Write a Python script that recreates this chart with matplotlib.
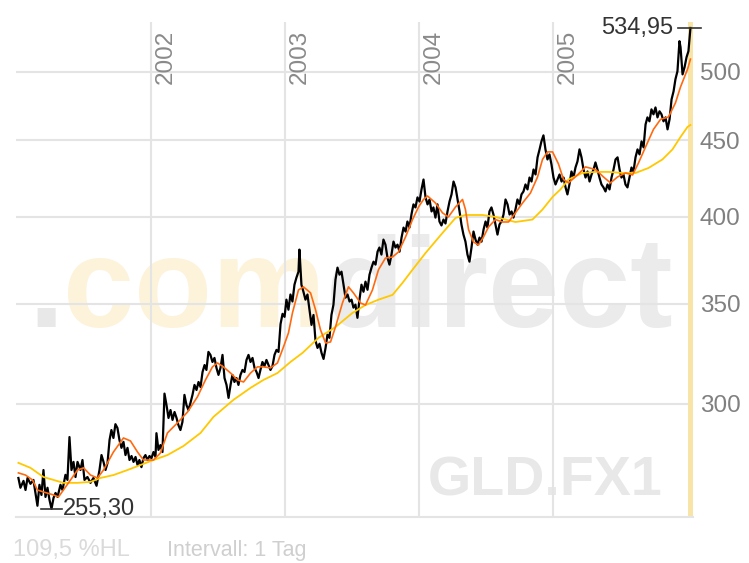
import matplotlib
matplotlib.use("Agg")
import matplotlib.pyplot as plt
from matplotlib.ticker import NullLocator

plt.rcParams['font.family'] = ['Liberation Sans', 'DejaVu Sans']

# Goldpreis (GLD.FX1), Schlusskurse, Zeit in Dezimaljahren
kurs_t = [
    2001.007, 2001.022, 2001.045, 2001.060, 2001.075, 2001.097, 2001.119, 2001.134, 2001.149, 2001.164,
    2001.179, 2001.194, 2001.209, 2001.224, 2001.239, 2001.254, 2001.269, 2001.284, 2001.299, 2001.321,
    2001.336, 2001.358, 2001.373, 2001.388, 2001.403, 2001.418, 2001.433, 2001.448, 2001.470, 2001.485,
    2001.500, 2001.522, 2001.545, 2001.567, 2001.590, 2001.612, 2001.627, 2001.642, 2001.657, 2001.672,
    2001.687, 2001.701, 2001.716, 2001.731, 2001.746, 2001.761, 2001.776, 2001.791, 2001.806, 2001.821,
    2001.836, 2001.851, 2001.866, 2001.881, 2001.896, 2001.910, 2001.925, 2001.940, 2001.955, 2001.970,
    2001.985,
    2002.000, 2002.015, 2002.030, 2002.037, 2002.052, 2002.067, 2002.082, 2002.097, 2002.112, 2002.127,
    2002.142, 2002.157, 2002.172, 2002.187, 2002.201, 2002.216, 2002.231, 2002.246, 2002.261, 2002.276,
    2002.291, 2002.306, 2002.321, 2002.336, 2002.351, 2002.366, 2002.381, 2002.396, 2002.410, 2002.425,
    2002.440, 2002.455, 2002.470, 2002.485, 2002.500, 2002.515, 2002.530, 2002.545, 2002.560, 2002.575,
    2002.590, 2002.604, 2002.619, 2002.634, 2002.649, 2002.664, 2002.679, 2002.694, 2002.709, 2002.724,
    2002.739, 2002.754, 2002.769, 2002.784, 2002.799, 2002.813, 2002.828, 2002.843, 2002.858, 2002.873,
    2002.888, 2002.903, 2002.918, 2002.933, 2002.948, 2002.963, 2002.978, 2002.993,
    2003.007, 2003.022, 2003.037, 2003.052, 2003.067, 2003.082, 2003.097, 2003.104, 2003.119, 2003.134,
    2003.149, 2003.164, 2003.179, 2003.194, 2003.209, 2003.224, 2003.239, 2003.254, 2003.269, 2003.284,
    2003.299, 2003.313, 2003.328, 2003.343, 2003.358, 2003.373, 2003.388, 2003.403, 2003.418, 2003.433,
    2003.448, 2003.463, 2003.478, 2003.493, 2003.507, 2003.522, 2003.537, 2003.552, 2003.567, 2003.582,
    2003.597, 2003.612, 2003.627, 2003.642, 2003.657, 2003.672, 2003.687, 2003.701, 2003.716, 2003.731,
    2003.746, 2003.761, 2003.776, 2003.791, 2003.806, 2003.821, 2003.836, 2003.851, 2003.866, 2003.881,
    2003.896, 2003.910, 2003.925, 2003.940, 2003.955, 2003.970, 2003.985,
    2004.000, 2004.015, 2004.030, 2004.045, 2004.060, 2004.075, 2004.090, 2004.104, 2004.119, 2004.134,
    2004.149, 2004.164, 2004.179, 2004.194, 2004.209, 2004.224, 2004.239, 2004.254, 2004.269, 2004.284,
    2004.299, 2004.313, 2004.328, 2004.343, 2004.358, 2004.373, 2004.388, 2004.403, 2004.418, 2004.433,
    2004.448, 2004.463, 2004.478, 2004.493, 2004.507, 2004.522, 2004.537, 2004.552, 2004.567, 2004.582,
    2004.597, 2004.612, 2004.627, 2004.642, 2004.657, 2004.672, 2004.687, 2004.701, 2004.716, 2004.731,
    2004.746, 2004.761, 2004.776, 2004.791, 2004.806, 2004.821, 2004.836, 2004.851, 2004.866, 2004.881,
    2004.896, 2004.910, 2004.925, 2004.940, 2004.955, 2004.970, 2004.985,
    2005.000, 2005.015, 2005.030, 2005.045, 2005.060, 2005.075, 2005.090, 2005.104, 2005.119, 2005.134,
    2005.149, 2005.164, 2005.179, 2005.194, 2005.209, 2005.224, 2005.239, 2005.254, 2005.269, 2005.284,
    2005.299, 2005.313, 2005.328, 2005.343, 2005.358, 2005.373, 2005.388, 2005.403, 2005.418, 2005.433,
    2005.448, 2005.463, 2005.478, 2005.493, 2005.507, 2005.522, 2005.537, 2005.552, 2005.567, 2005.582,
    2005.597, 2005.612, 2005.627, 2005.642, 2005.657, 2005.672, 2005.687, 2005.701, 2005.716, 2005.731,
    2005.746, 2005.761, 2005.776, 2005.791, 2005.806, 2005.821, 2005.836, 2005.851, 2005.866, 2005.881,
    2005.896, 2005.910, 2005.925, 2005.940, 2005.948, 2005.963, 2005.978, 2005.993, 2006.007, 2006.022,
]
kurs = [
    267.7, 263.7, 266.5, 262.8, 267.7, 265.3, 266.9, 261.6, 256.5, 264.9,
    260.8, 271.0, 260.0, 263.7, 258.8, 255.3, 259.6, 261.6, 260.0, 264.9,
    262.8, 269.0, 266.9, 285.1, 271.0, 274.4, 268.1, 274.4, 271.0, 275.2,
    266.9, 268.1, 265.7, 267.7, 264.5, 271.0, 277.3, 274.4, 271.0, 274.0,
    283.8, 288.2, 284.7, 290.8, 289.1, 283.8, 280.4, 283.0, 277.3, 280.4,
    275.2, 276.9, 274.4, 276.5, 273.1, 275.2, 272.2, 276.0, 277.3, 275.2,
    276.9,
    276.0, 278.6, 276.5, 286.8, 279.5, 281.6, 278.6, 304.8, 299.5, 293.6,
    297.2, 292.7, 296.3, 293.6, 290.4, 288.2, 291.8, 304.2, 299.5, 297.2,
    300.5, 304.2, 308.9, 306.5, 310.3, 307.9, 315.1, 318.5, 316.1, 325.0,
    323.5, 320.0, 322.0, 317.1, 313.7, 317.1, 323.5, 312.2, 308.9, 302.8,
    308.9, 313.7, 310.3, 312.2, 308.9, 313.7, 316.1, 315.1, 321.0, 323.5,
    320.0, 322.0, 317.1, 315.1, 312.2, 316.1, 320.0, 318.0, 321.0, 318.5,
    316.1, 318.0, 323.5, 326.0, 325.0, 339.2, 344.6, 343.0,
    352.2, 346.8, 355.0, 351.2, 360.4, 364.4, 367.7, 380.4, 360.4, 356.5,
    352.2, 355.0, 346.8, 338.8, 344.0, 330.6, 327.0, 329.1, 324.5, 321.5,
    327.0, 333.7, 332.1, 344.0, 349.5, 363.2, 370.0, 366.0, 367.7, 360.4,
    353.3, 355.0, 351.2, 352.2, 347.9, 349.5, 342.5, 352.2, 360.4, 356.5,
    362.1, 357.6, 366.0, 370.0, 373.4, 371.7, 379.2, 381.6, 377.5, 386.3,
    383.3, 375.7, 371.7, 377.5, 385.1, 381.6, 383.3, 379.2, 387.5, 393.5,
    391.1, 397.2, 393.5, 401.5, 407.8, 405.9, 412.2,
    409.6, 417.3, 423.7, 412.2, 407.8, 410.9, 403.4, 405.9, 399.6, 407.8,
    397.2, 394.8, 398.4, 396.0, 403.4, 409.6, 414.1, 422.4, 418.6, 410.9,
    403.4, 395.4, 389.3, 385.1, 377.5, 373.4, 381.6, 391.1, 386.3, 383.3,
    387.5, 385.1, 392.3, 397.2, 393.5, 403.4, 405.9, 401.5, 395.4, 389.3,
    395.4, 397.2, 401.5, 410.9, 407.8, 401.5, 403.4, 399.6, 404.6, 410.9,
    407.8, 414.1, 416.0, 420.5, 417.3, 425.0, 422.4, 430.3, 427.0, 438.4,
    443.8, 449.3, 453.5, 443.8, 437.0, 440.4, 433.6,
    425.0, 420.5, 423.7, 427.0, 422.4, 425.0, 418.6, 414.1, 420.5, 429.0,
    425.0, 431.6, 435.7, 443.8, 438.4, 430.3, 425.0, 429.0, 422.4, 427.0,
    430.3, 435.0, 430.3, 425.0, 420.5, 418.6, 416.0, 420.5, 417.3, 425.0,
    430.3, 437.0, 438.4, 430.3, 425.0, 427.0, 420.5, 418.6, 425.0, 431.6,
    429.0, 438.4, 443.8, 440.4, 449.3, 445.2, 461.2, 466.2, 463.4, 472.0,
    468.4, 473.4, 466.2, 470.6, 468.4, 463.4, 466.2, 457.7, 464.8, 479.3,
    485.3, 494.4, 500.5, 524.2, 519.4, 498.1, 503.6, 511.5, 516.2, 534.95,
]

# gleitender Durchschnitt 38 Tage (orange)
gd38_t = [
    2001.007, 2001.060, 2001.112, 2001.149, 2001.194, 2001.269, 2001.306, 2001.343, 2001.396, 2001.448,
    2001.493, 2001.545, 2001.597, 2001.642, 2001.716, 2001.791, 2001.843, 2001.896, 2001.940, 2002.015,
    2002.067, 2002.119, 2002.194, 2002.269, 2002.343, 2002.403, 2002.455, 2002.493, 2002.537, 2002.590,
    2002.642, 2002.687, 2002.739, 2002.791, 2002.836, 2002.888, 2002.940, 2002.985, 2003.022, 2003.052,
    2003.097, 2003.134, 2003.187, 2003.224, 2003.261, 2003.299, 2003.336, 2003.373, 2003.425, 2003.470,
    2003.507, 2003.560, 2003.597, 2003.649, 2003.694, 2003.746, 2003.799, 2003.843, 2003.896, 2003.948,
    2003.993, 2004.030, 2004.060, 2004.119, 2004.172, 2004.216, 2004.269, 2004.321, 2004.343, 2004.366,
    2004.403, 2004.440, 2004.478, 2004.515, 2004.567, 2004.619, 2004.664, 2004.716, 2004.769, 2004.828,
    2004.881, 2004.918, 2004.955, 2004.993, 2005.037, 2005.075, 2005.112, 2005.179, 2005.239, 2005.313,
    2005.373, 2005.425, 2005.478, 2005.537, 2005.590, 2005.634, 2005.687, 2005.746, 2005.799, 2005.858,
    2005.910, 2005.948, 2006.000, 2006.022,
]
gd38 = [
    269.8, 268.9, 266.9, 262.8, 262.0, 260.8, 260.0, 262.8, 266.9, 271.0,
    271.9, 268.9, 267.7, 271.0, 278.6, 284.7, 283.4, 278.6, 275.2, 275.2,
    278.2, 286.9, 291.4, 296.3, 303.3, 311.3, 317.6, 319.5, 317.6, 314.6,
    311.3, 310.3, 314.6, 317.6, 317.6, 317.1, 319.5, 327.5, 334.6, 345.1,
    357.5, 359.2, 355.9, 346.8, 336.3, 329.5, 330.0, 337.7, 350.4, 359.2,
    355.9, 350.4, 349.3, 357.5, 368.8, 375.5, 376.1, 379.0, 387.9, 398.4,
    406.2, 410.9, 413.1, 408.7, 402.5, 400.0, 406.2, 410.9, 404.6, 392.3,
    384.9, 383.1, 387.9, 393.9, 398.4, 396.9, 396.9, 402.5, 408.7, 415.0,
    425.4, 437.0, 442.1, 442.1, 434.0, 423.7, 421.5, 426.7, 432.0, 430.3,
    425.4, 421.5, 425.4, 428.0, 426.7, 434.6, 445.5, 457.7, 464.8, 466.5,
    476.7, 488.6, 502.0, 509.9,
]

# gleitender Durchschnitt 200 Tage (gelb)
gd200_t = [
    2001.007, 2001.097, 2001.194, 2001.269, 2001.343, 2001.448, 2001.545, 2001.619, 2001.716, 2001.821,
    2001.918, 2002.015, 2002.119, 2002.239, 2002.366, 2002.463, 2002.612, 2002.739, 2002.836, 2002.940,
    2003.037, 2003.127, 2003.246, 2003.373, 2003.500, 2003.597, 2003.694, 2003.799, 2003.873, 2003.948,
    2004.045, 2004.172, 2004.269, 2004.343, 2004.470, 2004.567, 2004.642, 2004.716, 2004.843, 2004.918,
    2004.993, 2005.052, 2005.112, 2005.216, 2005.313, 2005.410, 2005.515, 2005.612, 2005.709, 2005.813,
    2005.888, 2005.948, 2006.000, 2006.022,
]
gd200 = [
    274.0, 271.9, 268.1, 266.9, 265.7, 265.7, 266.1, 267.7, 268.9, 271.0,
    273.1, 275.2, 277.3, 281.2, 286.9, 294.1, 301.9, 307.5, 311.3, 314.6,
    320.0, 324.5, 332.1, 337.7, 345.1, 349.3, 352.2, 354.8, 361.4, 368.8,
    378.4, 390.3, 399.4, 401.2, 401.2, 400.0, 398.4, 396.9, 398.4, 404.6,
    412.5, 417.3, 423.7, 428.0, 428.7, 428.7, 428.0, 428.0, 431.3, 437.0,
    443.8, 452.4, 459.4, 460.8,
]

jahre = [2002, 2003, 2004, 2005]
y_ticks = [300, 350, 400, 450, 500]
hoch_t, hoch = 2006.022, 534.95
tief_t, tief = 2001.254, 255.30

grid_c = '#e4e4e4'

fig = plt.figure(figsize=(7.49, 5.63), dpi=100)
ax = fig.add_axes([16 / 749, 46 / 563, 677 / 749, 495 / 563])
ax.set_yscale('log')
ax.set_xlim(2000.989, 2006.041)
ax.set_ylim(252.1, 539.9)

for s in ['top', 'left', 'right']:
    ax.spines[s].set_visible(False)
ax.spines['bottom'].set_color(grid_c)
ax.spines['bottom'].set_linewidth(1.5)

ax.set_xticks([])
ax.set_yticks(y_ticks, labels=[str(v) for v in y_ticks])
ax.yaxis.set_minor_locator(NullLocator())
ax.yaxis.tick_right()
ax.tick_params(axis='y', length=0, pad=5, labelsize=17.5, labelcolor='#808080')

for v in y_ticks:
    ax.axhline(v, color=grid_c, lw=1.5, zorder=1)
for j in jahre:
    ax.axvline(j, color=grid_c, lw=1.5, zorder=1)
    ax.annotate(str(j), xy=(j, 1), xycoords=('data', 'axes fraction'),
                xytext=(2.5, -5.8), textcoords='offset points', rotation=90,
                ha='left', va='top', fontsize=17.5, color='#8a8a8a')

# gelber Balken am rechten Rand
ax.axvspan(2006.0, 2006.041, color='#f8e4a6', lw=0, zorder=1.5)

# Wasserzeichen
wm1 = ax.text(28 / 749, 1 - 327 / 563, '.', transform=fig.transFigure, fontsize=92,
              fontweight='bold', color='#e8e8e8', ha='left', va='baseline', zorder=0.5)
wm2 = ax.annotate('com', xy=(1, 0), xycoords=wm1, ha='left', va='bottom', fontsize=92,
                  fontweight='bold', color='#fdf3db', zorder=0.5)
ax.annotate('direct', xy=(1, 0), xycoords=wm2, ha='left', va='bottom', fontsize=92,
            fontweight='bold', color='#ebebeb', zorder=0.5)
ax.text(662 / 749, 1 - 495 / 563, 'GLD.FX1', transform=fig.transFigure, fontsize=40,
        fontweight='bold', color='#e8e8e8', ha='right', va='baseline', zorder=0.5)

ax.plot(kurs_t, kurs, color='black', lw=1.6, zorder=3)
ax.plot(gd200_t, gd200, color='#ffc800', lw=1.3, zorder=4)
ax.plot(gd38_t, gd38, color='#ff6a10', lw=1.2, zorder=5)

# Hoch / Tief
ax.plot([hoch_t - 0.09, hoch_t + 0.075], [hoch, hoch], color='#333333', lw=1.2,
        zorder=6, clip_on=False)
ax.annotate('534,95', xy=(hoch_t, hoch), xytext=(-12.5, 0), textcoords='offset points',
            ha='right', va='center', fontsize=17, color='#333333')
ax.plot([tief_t - 0.08, tief_t + 0.08], [tief, tief], color='#333333', lw=1.2, zorder=6)
ax.annotate('255,30', xy=(tief_t, tief), xytext=(8.5, 0), textcoords='offset points',
            ha='left', va='center', fontsize=17, color='#333333')

fig.text(13 / 749, 1 - 556 / 563, '109,5 %HL', fontsize=17, color='#dadada',
         ha='left', va='baseline')
fig.text(167 / 749, 1 - 556 / 563, 'Intervall: 1 Tag', fontsize=15.5, color='#cfcfcf',
         ha='left', va='baseline')

fig.savefig('out.png', dpi=100)
